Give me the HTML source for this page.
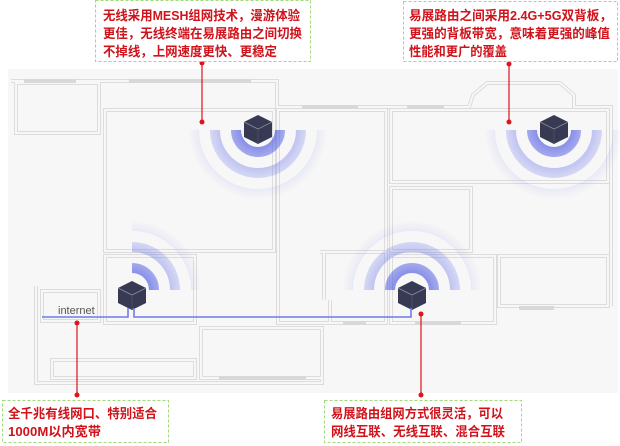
<!DOCTYPE html>
<html><head><meta charset="utf-8"><style>
html,body{margin:0;padding:0;background:#fff;}
svg{display:block;}
.t{font-family:"Liberation Sans","Noto Sans CJK SC",sans-serif;font-weight:bold;font-size:13px;fill:#d0121b;}
</style></head><body>
<svg width="620" height="446" viewBox="0 0 620 446" xmlns="http://www.w3.org/2000/svg">
<defs>
<radialGradient id="g1" gradientUnits="userSpaceOnUse" cx="258" cy="130" r="70"><stop offset="0.2" stop-color="#4a56e0" stop-opacity="0.7"/><stop offset="1" stop-color="#9aa2f0" stop-opacity="0"/></radialGradient>
<radialGradient id="g2" gradientUnits="userSpaceOnUse" cx="554" cy="130" r="70"><stop offset="0.2" stop-color="#4a56e0" stop-opacity="0.7"/><stop offset="1" stop-color="#9aa2f0" stop-opacity="0"/></radialGradient>
<radialGradient id="g3" gradientUnits="userSpaceOnUse" cx="132" cy="290" r="70"><stop offset="0.2" stop-color="#4a56e0" stop-opacity="0.7"/><stop offset="1" stop-color="#9aa2f0" stop-opacity="0"/></radialGradient>
<radialGradient id="g4" gradientUnits="userSpaceOnUse" cx="412" cy="290" r="70"><stop offset="0.2" stop-color="#4a56e0" stop-opacity="0.7"/><stop offset="1" stop-color="#9aa2f0" stop-opacity="0"/></radialGradient>
<g id="cube">
<polygon points="0,-14 14,-7 14,8 0,15 -14,8 -14,-7" fill="#373a52"/>
<polyline points="-14,-7 0,0 14,-7" fill="none" stroke="#8a8ca0" stroke-width="0.8"/>
<line x1="0" y1="0" x2="0" y2="15" stroke="#50536a" stroke-width="0.8"/>
</g>
</defs>
<rect x="8" y="69" width="610" height="324" fill="#f7f7f7"/>
<g fill="none" stroke="#dcdcdc" stroke-width="4">
<g id="walls">
<path d="M11,81 H277 V107 H469 L473,95 L487,83 H560 L574,95 V107 H611 V306"/>
<rect x="16" y="83" width="83" height="50"/>
<rect x="105" y="110" width="169" height="141"/>
<rect x="105" y="256" width="90" height="67"/>
<rect x="278" y="110" width="108" height="213"/>
<rect x="391" y="110" width="217" height="72"/>
<rect x="391" y="188" width="80" height="63"/>
<rect x="391" y="256" width="104" height="67"/>
<rect x="499" y="256" width="109" height="50"/>
<path d="M36,286 V383 H47 V383 H322 V328 H201"/>
<rect x="42" y="291" width="57" height="30"/>
<rect x="52" y="360" width="143" height="18"/>
<rect x="201" y="328" width="121" height="50"/>
<path d="M320,252 H386 M324,252 V300 M330,300 V323"/>
</g>
</g>
<g fill="none" stroke="#f7f7f7" stroke-width="2"><use href="#walls"/></g>
<g fill="#d8d8d8">
<rect x="24" y="79" width="52" height="4"/><rect x="129" y="79" width="122" height="4"/>
<rect x="302" y="105" width="56" height="4"/><rect x="407" y="105" width="37" height="4"/>
<rect x="519" y="306" width="35" height="4"/><rect x="343" y="321" width="23" height="4"/>
<rect x="415" y="321" width="46" height="4"/><rect x="219" y="376" width="87" height="4"/>
</g>
<g fill="none" stroke-width="10">
<path d="M236,130 A22,22 0 0 0 280,130 M215,130 A43,43 0 0 0 301,130 M194,130 A64,64 0 0 0 322,130" stroke="url(#g1)"/>
<path d="M532,130 A22,22 0 0 0 576,130 M511,130 A43,43 0 0 0 597,130 M490,130 A64,64 0 0 0 618,130" stroke="url(#g2)"/>
<path d="M132,268 A22,22 0 0 1 154,290 M132,247 A43,43 0 0 1 175,290 M132,226 A64,64 0 0 1 196,290" stroke="url(#g3)"/>
<path d="M390,290 A22,22 0 0 1 434,290 M369,290 A43,43 0 0 1 455,290 M348,290 A64,64 0 0 1 476,290" stroke="url(#g4)"/>
</g>
<use href="#cube" x="258" y="129"/><use href="#cube" x="554" y="129"/>
<use href="#cube" x="132" y="295"/><use href="#cube" x="412" y="295"/>
<g stroke="#6f7be8" stroke-width="1.6" fill="none">
<path d="M42,317 H128 V308 M134,308 V317 H411 V308"/>
</g>
<text x="58" y="314" font-family="Liberation Sans,sans-serif" font-size="11" fill="#555">internet</text>
<g stroke="#e0121b" stroke-width="1.2"><line x1="202" y1="63" x2="202" y2="122"/><line x1="509" y1="64" x2="509" y2="122"/><line x1="77" y1="323" x2="77" y2="395"/><line x1="421" y1="314" x2="421" y2="395"/></g>
<g fill="#e0121b"><circle cx="202" cy="63" r="2.5"/><circle cx="202" cy="122" r="2.5"/><circle cx="509" cy="64" r="2.5"/><circle cx="509" cy="122" r="2.5"/><circle cx="77" cy="323" r="2.5"/><circle cx="77" cy="395" r="2.5"/><circle cx="421" cy="314" r="2.5"/><circle cx="421" cy="395" r="2.5"/></g>
<g fill="#fff" stroke="#a3d97a" stroke-width="1" stroke-dasharray="3,2">
<rect x="95.5" y="0.5" width="215" height="61"/><rect x="403.5" y="1.5" width="214" height="60"/>
<rect x="2.5" y="400.5" width="166" height="42"/><rect x="324.5" y="400.5" width="197" height="42"/>
</g>
<text class="t" x="103" y="20" textLength="197" lengthAdjust="spacingAndGlyphs">无线采用MESH组网技术，漫游体验</text>
<text class="t" x="103" y="38" textLength="199" lengthAdjust="spacingAndGlyphs">更佳，无线终端在易展路由之间切换</text>
<text class="t" x="103" y="56" textLength="174" lengthAdjust="spacingAndGlyphs">不掉线，上网速度更快、更稳定</text>
<text class="t" x="409" y="20" textLength="203" lengthAdjust="spacingAndGlyphs">易展路由之间采用2.4G+5G双背板，</text>
<text class="t" x="409" y="38" textLength="201" lengthAdjust="spacingAndGlyphs">更强的背板带宽，意味着更强的峰值</text>
<text class="t" x="409" y="56" textLength="98" lengthAdjust="spacingAndGlyphs">性能和更广的覆盖</text>
<text class="t" x="8" y="418" textLength="149" lengthAdjust="spacingAndGlyphs">全千兆有线网口、特别适合</text>
<text class="t" x="8" y="436" textLength="93" lengthAdjust="spacingAndGlyphs">1000M以内宽带</text>
<text class="t" x="331" y="418" textLength="172" lengthAdjust="spacingAndGlyphs">易展路由组网方式很灵活，可以</text>
<text class="t" x="331" y="436" textLength="174" lengthAdjust="spacingAndGlyphs">网线互联、无线互联、混合互联</text>
</svg>
</body></html>
